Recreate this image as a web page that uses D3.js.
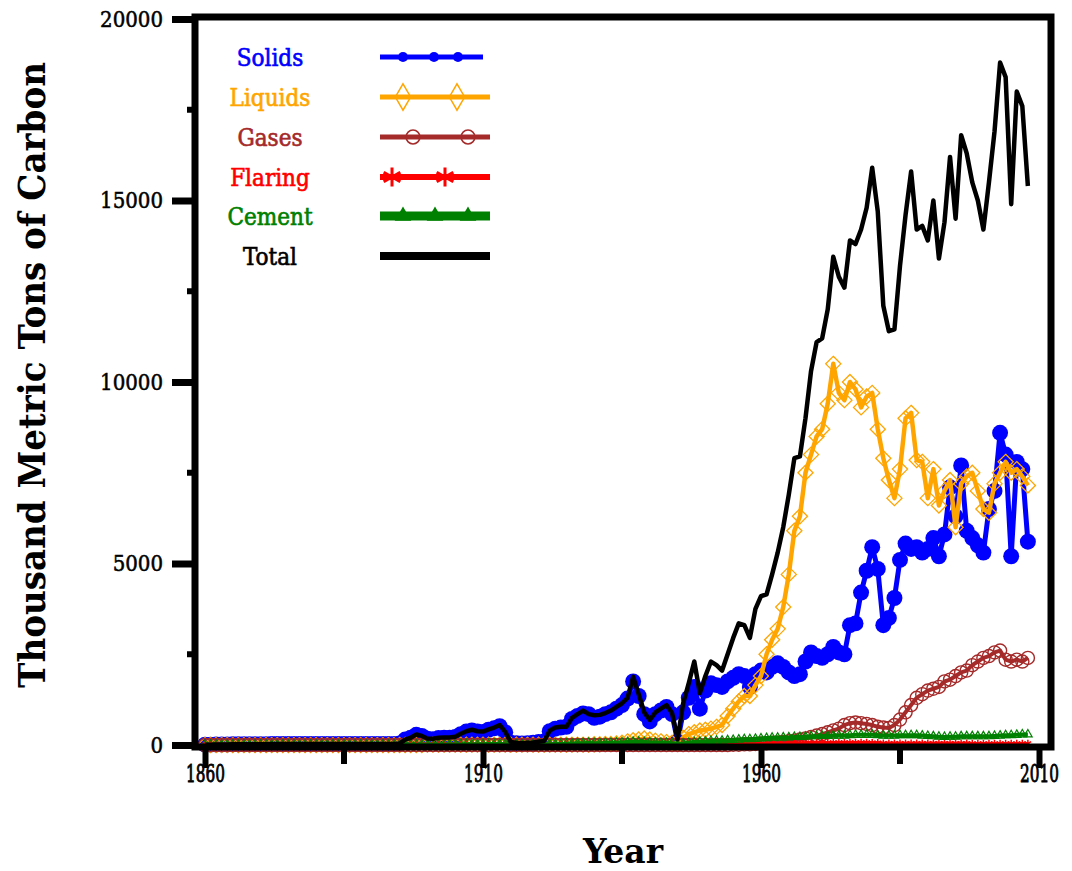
<!DOCTYPE html>
<html>
<head>
<meta charset="utf-8">
<script src="https://cdn.jsdelivr.net/npm/d3@7"></script>
<style>
  body { margin: 0; background: #fff; }
  svg { display: block; }
</style>
</head>
<body>
<svg id="chart"></svg>
<script>

// years 1860 .. 2008, one value per year (thousand metric tons of carbon)
const years = d3.range(1860, 2009)

const solids = [
  10,10,15,15,15,20,20,20,20,20,
  20,20,25,25,25,25,25,25,30,30,
  30,30,30,30,30,30,30,30,30,30,
  30,30,30,30,30,40,150,200,280,250,
  170,160,190,200,200,220,300,370,400,370,
  360,420,460,520,350,60,50,40,50,60,
  80,100,380,450,480,500,720,800,870,850,
  750,780,850,900,1000,1100,1280,1750,1350,850,
  650,850,950,1050,850,100,900,1300,1600,1000,
  1500,1700,1650,1600,1750,1850,1950,1900,1600,1950,
  2050,2000,2150,2250,2150,2000,1900,1950,2300,2550,
  2450,2400,2500,2700,2550,2500,3300,3350,4200,4800,
  5450,4850,3300,3500,4050,5100,5550,5400,5450,5300,
  5400,5700,5200,5800,7100,6300,7700,5900,5700,5500,
  5300,6500,7000,8600,8000,5200,7800,7600,5600
]

const liquids = [
  0,0,0,0,0,0,0,0,0,0,
  0,0,0,0,0,0,0,0,0,0,
  0,0,0,0,0,0,0,0,0,0,
  0,0,0,0,0,0,0,0,0,0,
  10,10,10,10,10,10,10,10,10,10,
  10,10,10,10,10,10,10,10,10,10,
  10,10,10,10,10,10,10,10,10,10,
  20,20,30,30,40,60,100,130,150,180,
  150,120,100,80,60,50,200,300,350,400,
  420,450,500,550,800,1000,1200,1350,1350,1650,
  1900,2500,2900,3200,3800,4700,5900,6300,7500,8000,
  8500,8700,9400,10500,9700,9500,10000,9800,9300,9600,
  9700,8700,7900,7300,6800,7600,9000,9150,7850,7800,
  6800,7600,6600,7000,7300,6000,7200,7400,7500,7000,
  6500,6400,7200,7500,7800,7500,7600,7400,7150
]

const gases = [
  0,0,0,0,0,0,0,0,0,0,
  0,0,0,0,0,0,0,0,0,0,
  0,0,0,0,0,0,0,0,0,0,
  0,0,0,0,0,0,0,0,0,0,
  0,0,0,0,0,0,0,0,0,0,
  0,0,0,0,0,0,0,0,0,0,
  0,0,0,0,0,0,0,0,0,0,
  0,0,0,0,0,0,0,0,0,0,
  0,0,0,0,0,0,0,0,0,0,
  0,0,0,0,0,10,10,20,20,30,
  40,50,60,70,80,100,120,150,180,220,
  260,300,350,400,450,550,600,620,600,580,
  550,500,480,470,550,700,900,1100,1300,1400,
  1500,1550,1600,1750,1800,1900,2000,2050,2200,2300,
  2400,2450,2550,2600,2350,2300,2350,2300,2400
]

const flaring = [
  0,0,0,0,0,0,0,0,0,0,
  0,0,0,0,0,0,0,0,0,0,
  0,0,0,0,0,0,0,0,0,0,
  0,0,0,0,0,0,0,0,0,0,
  0,0,0,0,0,0,0,0,0,0,
  0,0,0,0,0,0,0,0,0,0,
  0,0,0,0,0,0,0,0,0,0,
  0,0,0,0,0,0,0,0,0,0,
  5,5,5,5,5,5,10,10,10,10,
  10,15,15,20,20,20,25,25,30,30,
  30,30,40,40,40,50,50,50,60,60,
  60,60,60,70,70,70,70,70,70,70,
  60,60,50,50,50,50,50,50,50,50,
  50,50,50,50,50,50,50,50,40,40,
  40,40,40,40,40,40,40,40,40
]

const cement = [
  0,0,0,0,0,0,0,0,0,0,
  0,0,0,0,0,0,0,0,0,0,
  0,0,0,0,0,0,0,0,0,0,
  0,0,0,0,0,0,5,5,5,5,
  10,10,10,10,15,15,15,20,20,20,
  20,25,25,30,20,5,5,5,5,10,
  10,15,20,25,30,35,40,45,50,55,
  50,50,55,60,65,70,80,90,90,80,
  70,70,60,60,50,20,40,60,80,90,
  100,110,120,120,130,140,150,160,160,170,
  180,190,200,200,210,210,220,220,230,240,
  240,250,250,260,260,260,270,280,280,280,
  280,270,260,260,260,270,270,270,270,260,
  250,240,230,220,230,230,240,240,240,240,
  240,240,250,260,270,270,280,290,290
]

const total = [
  10,10,15,15,15,20,20,20,20,20,
  20,20,25,25,25,25,25,25,30,30,
  30,30,30,30,30,30,30,30,30,30,
  30,30,30,30,30,40,150,200,290,250,
  180,170,200,210,210,230,310,380,420,380,
  370,430,480,550,360,80,60,50,60,70,
  90,110,400,480,500,500,750,850,950,850,
  820,830,880,950,1050,1150,1300,1880,1400,900,
  690,900,1000,1100,880,160,1150,1700,2300,1430,
  1900,2300,2200,2050,2500,2950,3350,3300,2950,3750,
  4100,4150,4700,5300,6000,6900,7900,7950,9000,10300,
  11100,11200,12000,13450,12900,12600,13900,13800,14200,14800,
  15900,14700,12100,11400,11450,13200,14600,15800,14200,14300,
  13900,15000,13400,14400,16200,14500,16800,16300,15500,15000,
  14200,15500,16900,18800,18400,14900,18000,17600,15400
]

const seriesNames = ["Solids", "Liquids", "Gases", "Flaring", "Cement", "Total"]
const yMajorTicks = [0, 5000, 10000, 15000, 20000]
const yMinorTicks = [2500, 7500, 12500, 17500]
const xMajorTicks = [1860, 1910, 1960, 2010]
const xMinorTicks = [1885, 1935, 1985]

const width = 1072
const height = 871

let svg = d3.select("#chart")
    .attr("width", width)
    .attr("height", height)

let xScale = d3.scaleLinear()
    .domain([1860, 2010])
    .range([205, 1039])

let yScale = d3.scaleLinear()
    .domain([0, 20000])
    .range([745, 19])

const SERIF = "'DejaVu Serif Condensed', 'DejaVu Serif', serif"

// how each series is drawn
let styles = {
    Solids:  {values: solids,  color: "#0000ff", width: 5,   symbol: d3.symbolCircle,   size: 200, fill: true,  stroke: 0,
              legendSymbol: d3.symbolCircle, legendSize: 80, legendFill: true, legendX: [403, 434, 458], legendW: 5, legendEnd: 483},
    Liquids: {values: liquids, color: "#ffa500", width: 4.5, symbol: d3.symbolDiamond2, size: 145, fill: false, stroke: 1.3,
              legendSymbol: d3.symbolDiamond, legendSize: 200, legendFill: false, legendX: [403, 457], legendW: 5, legendEnd: 490},
    Gases:   {values: gases,   color: "#a52a2a", width: 4,   symbol: d3.symbolCircle,   size: 135, fill: false, stroke: 1.4,
              legendSymbol: d3.symbolCircle, legendSize: 150, legendFill: false, legendX: [413, 468], legendW: 5, legendEnd: 490},
    Flaring: {values: flaring, color: "#ff0000", width: 3,   symbol: d3.symbolAsterisk, size: 40,  fill: false, stroke: 1.5,
              legendSymbol: d3.symbolAsterisk, legendSize: 260, legendFill: false, legendX: [392, 445], legendW: 6, legendEnd: 490},
    Cement:  {values: cement,  color: "#008000", width: 4,   symbol: d3.symbolTriangle, size: 32,  fill: false, stroke: 1.2,
              legendSymbol: d3.symbolTriangle, legendSize: 120, legendFill: true, legendX: [403, 435, 468], legendW: 9, legendEnd: 490},
    Total:   {values: total,   color: "#000000", width: 4.5, symbol: null,
              legendSymbol: null, legendX: [], legendW: 8, legendEnd: 490}
}

// ---- data lines + markers
let line = d3.line()
    .x(d => xScale(d[0]))
    .y(d => yScale(d[1]))

for (let name of seriesNames) {
    let s = styles[name]
    let pts = years.map((yr, i) => [yr, s.values[i]])
    let g = svg.append("g").attr("class", "series series-" + name)

    g.append("path")
        .datum(pts)
        .attr("d", line)
        .attr("fill", "none")
        .attr("stroke", s.color)
        .attr("stroke-width", s.width)
        .attr("stroke-linejoin", "round")

    if (s.symbol) {
        g.selectAll("path.mark").data(pts).enter()
            .append("path")
            .attr("class", "mark")
            .attr("transform", d => "translate(" + xScale(d[0]) + "," + yScale(d[1]) + ")")
            .attr("d", d3.symbol().type(s.symbol).size(s.size))
            .attr("fill", s.fill ? s.color : "none")
            .attr("stroke", s.fill ? "none" : s.color)
            .attr("stroke-width", s.stroke)
    }
}

// ---- frame
svg.append("rect")
    .attr("x", 195)
    .attr("y", 17)
    .attr("width", 856)
    .attr("height", 730)
    .attr("fill", "none")
    .attr("stroke", "#000")
    .attr("stroke-width", 7)

// ---- y axis
let yAxis = svg.append("g")
    .attr("transform", "translate(195,0)")
    .call(d3.axisLeft(yScale).tickValues(yMajorTicks).tickSize(23).tickPadding(9).tickFormat(d3.format("d")))
yAxis.select(".domain").remove()
yAxis.selectAll(".tick line").attr("stroke-width", 7)
yAxis.selectAll(".tick text")
    .style("font-family", SERIF)
    .style("font-size", "22px")
    .style("stroke", "#000")
    .style("stroke-width", 0.5)
    .attr("fill", "#000")

svg.append("g").selectAll("line").data(yMinorTicks).enter()
    .append("line")
    .attr("x1", 187).attr("x2", 196)
    .attr("y1", d => yScale(d)).attr("y2", d => yScale(d))
    .attr("stroke", "#000")
    .attr("stroke-width", 6)

// ---- x axis
let xAxis = svg.append("g")
    .attr("transform", "translate(0,747)")
    .call(d3.axisBottom(xScale).tickValues(xMajorTicks).tickSize(21).tickPadding(0).tickFormat(d3.format("d")))
xAxis.select(".domain").remove()
xAxis.selectAll(".tick line").attr("stroke-width", 6)
// labels are tall and narrow in the original
xAxis.selectAll(".tick text")
    .attr("y", 35)
    .attr("dy", 0)
    .attr("transform", "scale(0.68,1)")
    .style("font-family", SERIF)
    .style("font-size", "25px")
    .style("stroke", "#000")
    .style("stroke-width", 0.9)
    .attr("fill", "#000")

svg.append("g").selectAll("line").data(xMinorTicks).enter()
    .append("line")
    .attr("x1", d => xScale(d)).attr("x2", d => xScale(d))
    .attr("y1", 746).attr("y2", 764)
    .attr("stroke", "#000")
    .attr("stroke-width", 6)

// ---- axis titles
svg.append("text")
    .attr("x", 623)
    .attr("y", 863)
    .attr("text-anchor", "middle")
    .attr("textLength", 80)
    .attr("lengthAdjust", "spacingAndGlyphs")
    .style("font-family", SERIF)
    .style("font-size", "34px")
    .style("font-weight", "bold")
    .text("Year")

svg.append("text")
    .attr("transform", "translate(45,375) rotate(-90)")
    .attr("text-anchor", "middle")
    .attr("textLength", 626)
    .attr("lengthAdjust", "spacingAndGlyphs")
    .style("font-family", SERIF)
    .style("font-size", "37px")
    .style("font-weight", "bold")
    .text("Thousand Metric Tons of Carbon")

// ---- legend
let legendY = [57, 97, 137, 177, 216, 256]

let legend = svg.append("g").attr("class", "legend")
seriesNames.forEach((name, i) => {
    let s = styles[name]
    let ly = legendY[i]
    legend.append("text")
        .attr("x", 270)
        .attr("y", ly)
        .attr("dy", "0.36em")
        .attr("text-anchor", "middle")
        .style("font-family", SERIF)
        .style("font-size", "24px")
        .style("stroke", s.color)
        .style("stroke-width", 0.6)
        .attr("fill", s.color)
        .text(name)

    legend.append("line")
        .attr("x1", 380).attr("x2", s.legendEnd)
        .attr("y1", ly).attr("y2", ly)
        .attr("stroke", s.color)
        .attr("stroke-width", s.legendW)

    if (s.legendSymbol) {
        legend.selectAll(null).data(s.legendX).enter()
            .append("path")
            .attr("transform", d => "translate(" + d + "," + ly + ")")
            .attr("d", d3.symbol().type(s.legendSymbol).size(s.legendSize))
            .attr("fill", s.legendFill ? s.color : "none")
            .attr("stroke", s.legendFill ? "none" : s.color)
            .attr("stroke-width", name == "Flaring" ? 3 : 1.5)
    }
})

</script>
</body>
</html>
